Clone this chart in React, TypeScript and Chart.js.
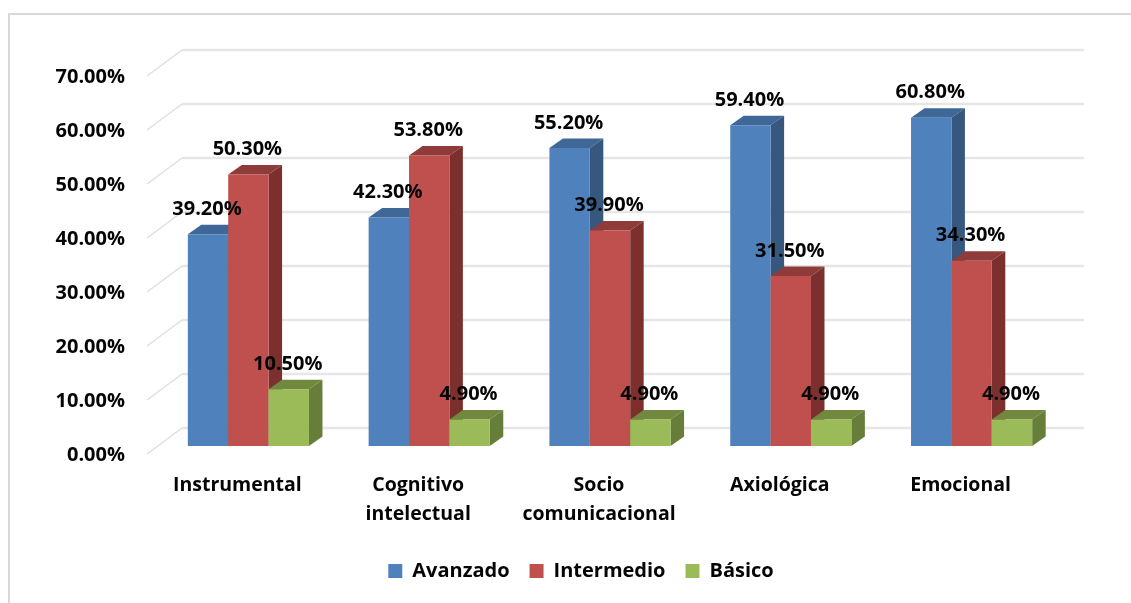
import React, { useEffect, useRef } from "react";
import { Chart, registerables } from "chart.js";

Chart.register(...registerables);

const categories: (string | string[])[] = [
  "Instrumental",
  ["Cognitivo", "intelectual"],
  ["Socio", "comunicacional"],
  "Axiológica",
  "Emocional",
];
const avanzado = [39.2, 42.3, 55.2, 59.4, 60.8];
const intermedio = [50.3, 53.8, 39.9, 31.5, 34.3];
const basico = [10.5, 4.9, 4.9, 4.9, 4.9];
const yTicks = [0, 10, 20, 30, 40, 50, 60, 70];

const FONT = "'Open Sans', sans-serif";
const DEPTH_X = 13.5;
const DEPTH_Y = 9.5;
const WALL_DX = 24;
const WALL_DY = 18;
const FLOOR_DX = 11;
const FLOOR_DY = 8;

const sideColors: Record<string, { side: string; top: string }> = {
  Avanzado: { side: "#36587f", top: "#3f6797" },
  Intermedio: { side: "#7b302e", top: "#8f3b39" },
  "Básico": { side: "#677d3a", top: "#71893f" },
};

const fmt = (v: number) => v.toFixed(2) + "%";

const poly = (ctx: CanvasRenderingContext2D, pts: number[][], color: string) => {
  ctx.beginPath();
  pts.forEach(([x, y], i) => (i ? ctx.lineTo(x, y) : ctx.moveTo(x, y)));
  ctx.closePath();
  ctx.fillStyle = color;
  ctx.fill();
};

const walls = {
  id: "walls",
  afterLayout(chart: any) {
    // The reference legend sits right of the canvas centre.
    chart.legend.left += 25;
    chart.legend.right += 25;
  },
  beforeDatasetsDraw(chart: any) {
    const { ctx, chartArea, scales } = chart;
    ctx.save();
    for (const v of yTicks) {
      const y = scales.y.getPixelForValue(v);
      ctx.strokeStyle = "#e6e6e6";
      ctx.lineWidth = 2.5;
      ctx.beginPath();
      ctx.moveTo(chartArea.left + WALL_DX, y - WALL_DY);
      ctx.lineTo(chartArea.right + WALL_DX - 2, y - WALL_DY);
      ctx.stroke();
      ctx.strokeStyle = "#dedede";
      ctx.lineWidth = 1.5;
      ctx.beginPath();
      ctx.moveTo(chartArea.left - FLOOR_DX, y + FLOOR_DY);
      ctx.lineTo(chartArea.left + WALL_DX, y - WALL_DY);
      ctx.stroke();
    }
    ctx.restore();
  },
};

const bars3d = {
  id: "bars3d",
  beforeDatasetsDraw(chart: any) {
    const { ctx } = chart;
    // Painted first series first, so later bars cover earlier bars' side faces.
    chart.data.datasets.forEach((ds: any, i: number) => {
      const c = sideColors[ds.label];
      const els = chart.getDatasetMeta(i).data;
      ctx.save();
      for (const el of els) {
        const l = el.x - el.width / 2;
        const r = el.x + el.width / 2;
        const t = el.y;
        const b = el.base;
        poly(ctx, [[l, t], [r, t], [r + DEPTH_X, t - DEPTH_Y], [l + DEPTH_X, t - DEPTH_Y]], c.top);
        poly(ctx, [[r, t], [r + DEPTH_X, t - DEPTH_Y], [r + DEPTH_X, b - DEPTH_Y], [r, b]], c.side);
        el.draw(ctx);
      }
      ctx.restore();
    });
  },
  beforeDatasetDraw() {
    return false;
  },
};

const valueLabels = {
  id: "valueLabels",
  afterDatasetsDraw(chart: any) {
    const { ctx } = chart;
    ctx.save();
    ctx.font = `bold 20px ${FONT}`;
    ctx.fillStyle = "#050505";
    ctx.textAlign = "center";
    ctx.textBaseline = "middle";
    chart.data.datasets.forEach((ds: any, i: number) => {
      chart.getDatasetMeta(i).data.forEach((el: any, j: number) => {
        ctx.fillText(fmt(ds.data[j]), el.x - 1, el.y - 25);
      });
    });
    ctx.restore();
  },
};

export default function App() {
  const ref = useRef<HTMLCanvasElement>(null);
  useEffect(() => {
    const chart = new Chart(ref.current as HTMLCanvasElement, {
      type: "bar",
      data: {
        labels: categories as any,
        datasets: [
          { label: "Avanzado", data: avanzado, backgroundColor: "#4f81bd" },
          { label: "Intermedio", data: intermedio, backgroundColor: "#c0504d" },
          { label: "Básico", data: basico, backgroundColor: "#9bbb59" },
        ],
      },
      options: {
        responsive: false,
        animation: false,
        layout: { padding: { left: 50, right: 69, top: 68, bottom: 12 } },
        datasets: { bar: { categoryPercentage: 0.67, barPercentage: 1 } },
        plugins: {
          tooltip: { enabled: false },
          legend: {
            position: "bottom",
            labels: {
              boxWidth: 14,
              boxHeight: 14,
              padding: 20,
              color: "#050505",
              font: { family: FONT, size: 20, weight: "bold" },
            },
          },
        },
        scales: {
          x: {
            grid: { display: false },
            border: { display: false },
            afterFit(s: any) {
              s.height = 95;
            },
            ticks: {
              color: "#050505",
              padding: 17,
              labelOffset: -11,
              maxRotation: 0,
              font: { family: FONT, size: 19.5, weight: "bold", lineHeight: 1.49 },
            },
          },
          y: {
            min: 0,
            max: 70,
            grid: { display: false },
            border: { display: false },
            afterFit(s: any) {
              s.width = 108;
            },
            afterBuildTicks(s: any) {
              s.ticks = yTicks.map((value) => ({ value }));
            },
            ticks: {
              color: "#050505",
              padding: 25,
              labelOffset: 9,
              callback: (v: any) => fmt(Number(v)),
              font: { family: FONT, size: 20, weight: "bold" },
            },
          },
        },
      } as any,
      plugins: [walls, bars3d, valueLabels],
    });
    return () => chart.destroy();
  }, []);
  return (
    <div style={{ position: "absolute", left: 0, top: 0, width: 1131, height: 603, overflow: "hidden", background: "#fff" }}>
      <div
        style={{
          position: "absolute",
          left: 8,
          top: 13,
          right: 0,
          bottom: 0,
          borderLeft: "2px solid #d9d9d9",
          borderTop: "2px solid #d9d9d9",
        }}
      />
      <canvas
        ref={ref}
        width={1131}
        height={603}
        style={{ position: "absolute", left: 0, top: 0, filter: "blur(0.45px)" }}
      />
    </div>
  );
}
